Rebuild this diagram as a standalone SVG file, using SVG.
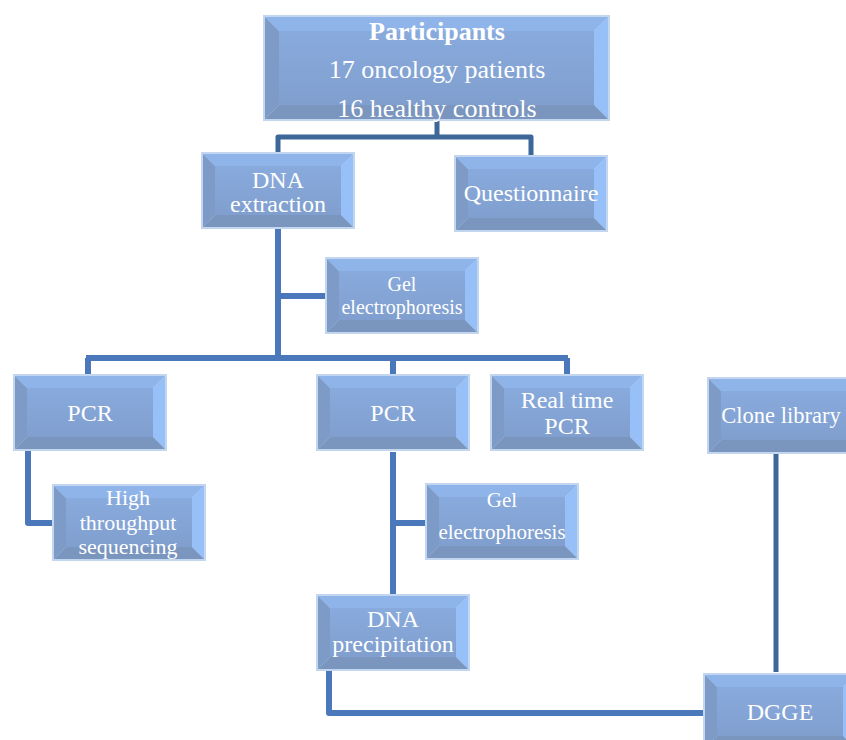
<svg xmlns="http://www.w3.org/2000/svg" xmlns:xlink="http://www.w3.org/1999/xlink" width="846" height="740" viewBox="0 0 846 740">
  <defs>
    <linearGradient id="face" x1="0" y1="0" x2="0" y2="1">
      <stop offset="0" stop-color="#88aadc"/>
      <stop offset="1" stop-color="#809fcf"/>
    </linearGradient>
    <symbol id="box" viewBox="0 0 154 77" width="154" height="77" overflow="visible">
      <rect x="0" y="0" width="154" height="77" fill="#c3d6ef"/>
      <polygon points="2,2 152,2 140,14 14,14" fill="#8fb4ea"/>
      <polygon points="2,2 14,14 14,63 2,75" fill="#7d9bc6"/>
      <polygon points="152,2 152,75 140,63 140,14" fill="#98c0f8"/>
      <polygon points="2,75 14,63 140,63 152,75" fill="#7a95be"/>
      <rect x="14" y="14" width="126" height="49" fill="url(#face)"/>
    </symbol>
  </defs>
  <style>
    text { font-family: "Liberation Serif", "Times New Roman", serif; fill: #ffffff; text-anchor: middle; }
    .t24 { font-size: 24px; }
    .t22 { font-size: 22px; }
    .t20 { font-size: 20px; }
    .t21 { font-size: 21px; }
    .t26 { font-size: 26px; }
    .b { font-weight: bold; }
    .cdark { fill: none; stroke: #3d6699; stroke-width: 5; stroke-linejoin: round; }
    .clight { fill: none; stroke: #4a78ba; stroke-width: 6; stroke-linejoin: round; }
  </style>
  <rect width="846" height="740" fill="#ffffff"/>

  <g id="connectors">
    <path class="cdark" d="M437,121 V137 M278,152 V137 H531 V155"/>
    <path class="clight" d="M278,229 V358 M278,296 H325 M86,358 H568 M88,358 V374 M393,358 V374 M567,358 V374"/>
    <path class="clight" d="M28,451 V523 H52"/>
    <path class="clight" d="M393,452 V594 M393,523 H425"/>
    <path class="clight" d="M329,671 V713 H703"/>
    <path class="cdark" d="M776,454 V672"/>
  </g>

  <g id="participants">
    <rect x="263" y="15" width="347" height="106" fill="#c3d6ef"/>
    <polygon points="265,17 608,17 594,31 279,31" fill="#8fb4ea"/>
    <polygon points="265,17 279,31 279,105 265,119" fill="#7d9bc6"/>
    <polygon points="608,17 608,119 594,105 594,31" fill="#98c0f8"/>
    <polygon points="265,119 279,105 594,105 608,119" fill="#7a95be"/>
    <rect x="279" y="31" width="315" height="74" fill="url(#face)"/>
    <text class="t26 b" x="437" y="40">Participants</text>
    <text class="t26" x="437" y="78">17 oncology patients</text>
    <text class="t26" x="437" y="117">16 healthy controls</text>
  </g>

  <g id="dna-extraction">
    <use xlink:href="#box" href="#box" x="201" y="152"/>
    <text class="t24" x="278" y="188">DNA</text>
    <text class="t24" x="278" y="212">extraction</text>
  </g>

  <g id="questionnaire">
    <use xlink:href="#box" href="#box" x="454" y="155"/>
    <text class="t24" x="531" y="201">Questionnaire</text>
  </g>

  <g id="gel-electrophoresis-1">
    <use xlink:href="#box" href="#box" x="325" y="257"/>
    <text class="t20" x="402" y="291">Gel</text>
    <text class="t20" x="402" y="314">electrophoresis</text>
  </g>

  <g id="pcr-1">
    <use xlink:href="#box" href="#box" x="13" y="374"/>
    <text class="t24" x="90" y="421">PCR</text>
  </g>

  <g id="pcr-2">
    <use xlink:href="#box" href="#box" x="316" y="374"/>
    <text class="t24" x="393" y="421">PCR</text>
  </g>

  <g id="real-time-pcr">
    <use xlink:href="#box" href="#box" x="490" y="374"/>
    <text class="t24" x="567" y="408">Real time</text>
    <text class="t24" x="567" y="434">PCR</text>
  </g>

  <g id="clone-library">
    <use xlink:href="#box" href="#box" x="707" y="377"/>
    <text x="781" y="423" style="font-size:22.5px">Clone library</text>
  </g>

  <g id="high-throughput-sequencing">
    <use xlink:href="#box" href="#box" x="52" y="484"/>
    <text class="t22" x="128" y="505">High</text>
    <text class="t22" x="128" y="530">throughput</text>
    <text class="t22" x="128" y="554">sequencing</text>
  </g>

  <g id="gel-electrophoresis-2">
    <use xlink:href="#box" href="#box" x="425" y="483"/>
    <text class="t21" x="502" y="507">Gel</text>
    <text class="t21" x="502" y="539">electrophoresis</text>
  </g>

  <g id="dna-precipitation">
    <use xlink:href="#box" href="#box" x="316" y="594"/>
    <text class="t24" x="393" y="627">DNA</text>
    <text class="t24" x="393" y="652">precipitation</text>
  </g>

  <g id="dgge">
    <use xlink:href="#box" href="#box" x="703" y="673"/>
    <text class="t24" x="780" y="720">DGGE</text>
  </g>
</svg>
